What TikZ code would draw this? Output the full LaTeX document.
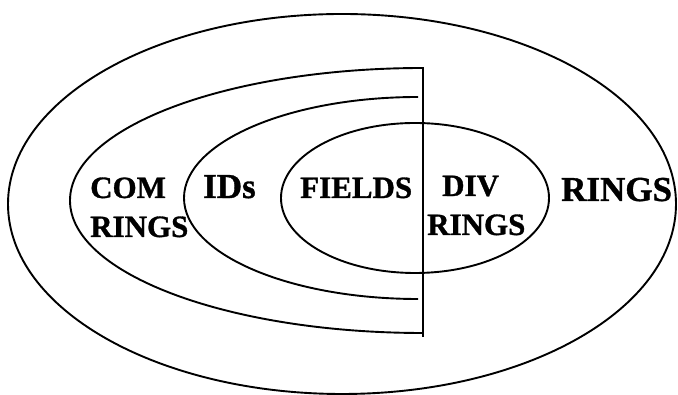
\documentclass[tikz,border=0pt]{standalone}
\usepackage{fontspec}
\setmainfont{Liberation Serif}[BoldFeatures={FakeBold=1}]
\begin{document}
\begin{tikzpicture}[x=1pt,y=1pt,
  curve/.style={draw=black,line width=1.9pt},
  divider/.style={draw=black,line width=2.8pt},
  lbl/.style={inner sep=0pt,font=\bfseries\fontsize{31}{39}\selectfont},
  biglbl/.style={inner sep=0pt,font=\bfseries\fontsize{35}{42}\selectfont}]
\useasboundingbox (0,0) rectangle (678,395);
% outer ellipse: RINGS
\draw[curve] (342,191) ellipse [x radius=334, y radius=190];
% commutative rings half-ellipse
\draw[curve] (423,327) arc [start angle=90, end angle=270, x radius=353, y radius=132.5];
% integral domains half-ellipse
\draw[curve] (418,298) arc [start angle=90, end angle=270, x radius=234, y radius=101];
% division rings ellipse
\draw[curve] (415,197) ellipse [x radius=134, y radius=75];
% vertical divider
\coordinate (vtop) at (423,327.5);
\coordinate (vbot) at (423,58);
\draw[divider] (vtop) -- (vbot);
% labels
\node[lbl,anchor=base west,align=left] (com) at (90,158) {COM\\RINGS};
\node[biglbl,anchor=base west] (ids) at (203,197) {IDs};
\node[lbl,anchor=base west] (fields) at (300,197) {FIELDS};
\node[lbl,anchor=base west,align=left] (div) at (427,160) {\hspace*{15pt}DIV\\RINGS};
\node[biglbl,anchor=base west] (rings) at (561,194) {RINGS};
\end{tikzpicture}
\end{document}
